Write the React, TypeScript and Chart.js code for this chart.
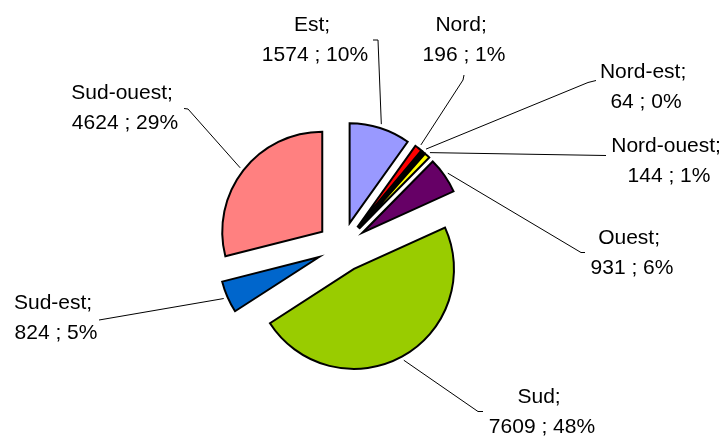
import React, { useEffect, useRef } from "react";
import { Chart, registerables } from "chart.js";

Chart.register(...registerables);

// ---- data ----
const categories = ["Est", "Nord", "Nord-est", "Nord-ouest", "Ouest", "Sud", "Sud-est", "Sud-ouest"];
const values = [1574, 196, 64, 144, 931, 7609, 824, 4624];
const colors = ["#9999FF", "#FF0000", "#000000", "#FFFF00", "#660066", "#99CC00", "#0066CC", "#FF8080"];

// ---- layout (label text centres / first baseline, and leader bend points) ----
const labelPos: [number, number][] = [
  [315, 31],
  [464, 31],
  [646, 78],
  [669, 152],
  [632, 244],
  [542, 403],
  [56, 309],
  [125, 99],
];
const leaderPts: [number, number][][] = [
  [[378, 40], [373, 40]],
  [[463, 80], [464, 75]],
  [[588, 82.5], [596, 80.5]],
  [[606, 155.5]],
  [[581, 252.5], [585, 252.5]],
  [[478, 411.5], [483, 411.5]],
  [[102, 319.5], [99, 320]],
  [[188, 109], [184, 108.5]],
];

const EXPLODE = 25;
const RADIUS = 100;
const FONT = "21px 'Liberation Sans', Arial, sans-serif";
const LINE_H = 30;

const total = values.reduce((a, b) => a + b, 0);

const explodePlugin = {
  id: "explode",
  afterDatasetsUpdate(chart: any) {
    const meta = chart.getDatasetMeta(0);
    const ca = chart.chartArea;
    const cx = (ca.left + ca.right) / 2;
    const cy = (ca.top + ca.bottom) / 2;
    meta.data.forEach((el: any) => {
      const mid = (el.startAngle + el.endAngle) / 2;
      el.x = cx + EXPLODE * Math.cos(mid);
      el.y = cy + EXPLODE * Math.sin(mid);
    });
  },
};

const labelPlugin = {
  id: "outLabels",
  afterDraw(chart: any) {
    const ctx: CanvasRenderingContext2D = chart.ctx;
    const meta = chart.getDatasetMeta(0);
    ctx.save();
    // leaders
    ctx.strokeStyle = "#000000";
    ctx.lineWidth = 1;
    meta.data.forEach((el: any, i: number) => {
      const mid = (el.startAngle + el.endAngle) / 2;
      const r = el.outerRadius + 4;
      const ax = el.x + r * Math.cos(mid);
      const ay = el.y + r * Math.sin(mid);
      ctx.beginPath();
      ctx.moveTo(ax, ay);
      leaderPts[i].forEach(([x, y]) => ctx.lineTo(x, y));
      ctx.stroke();
    });
    // texts
    ctx.fillStyle = "#000000";
    ctx.font = FONT;
    ctx.textAlign = "center";
    ctx.textBaseline = "alphabetic";
    categories.forEach((c, i) => {
      const pct = Math.round((values[i] / total) * 100);
      const [x, y] = labelPos[i];
      ctx.fillText(c + "; ", x, y);
      ctx.fillText(values[i] + " ; " + pct + "%", x, y + LINE_H);
    });
    ctx.restore();
  },
};

export default function App() {
  const ref = useRef<HTMLCanvasElement | null>(null);
  useEffect(() => {
    document.body.style.margin = "0";
    const canvas = ref.current;
    if (!canvas) return;
    const chart = new Chart(canvas, {
      type: "pie",
      data: {
        labels: categories,
        datasets: [
          {
            data: values,
            backgroundColor: colors,
            borderColor: "#000000",
            borderWidth: 2,
            borderJoinStyle: "miter",
          } as any,
        ],
      },
      options: {
        responsive: false,
        animation: false,
        radius: RADIUS,
        layout: { padding: { left: 0, right: 42, top: 58, bottom: 0 } },
        plugins: {
          legend: { display: false },
          tooltip: { enabled: false },
        },
        events: [],
      } as any,
      plugins: [explodePlugin, labelPlugin],
    });
    return () => chart.destroy();
  }, []);
  return (
    <div style={{ width: 726, height: 436, background: "#ffffff" }}>
      <canvas ref={ref} width={726} height={436} style={{ display: "block" }} />
    </div>
  );
}
